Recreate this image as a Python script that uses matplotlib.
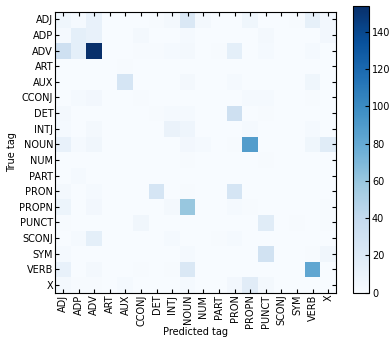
import numpy as np
import matplotlib
matplotlib.use('Agg')
from matplotlib import pyplot as plt

tags = ['ADJ', 'ADP', 'ADV', 'ART', 'AUX', 'CCONJ', 'DET', 'INTJ', 'NOUN',
        'NUM', 'PART', 'PRON', 'PROPN', 'PUNCT', 'SCONJ', 'SYM', 'VERB', 'X']

# rows = true tag, columns = predicted tag
cm = np.array([
    # ADJ ADP ADV ART AUX CCO DET INT NOU NUM PAR PRO PPN PUN SCO SYM VRB  X
    [  6,  2, 12,  0,  0,  0,  1,  3, 22,  3,  0,  0,  6,  0,  0,  1, 13,  4],  # ADJ
    [  2, 14, 12,  0,  0,  3,  0,  0,  2,  0,  0,  0,  0,  3,  0,  0,  0,  4],  # ADP
    [ 32, 14, 154, 0,  0,  1,  1,  2,  3,  0,  1, 14,  0,  2,  0,  0,  2,  0],  # ADV
    [  0,  0,  0,  0,  1,  0,  0,  0,  0,  0,  0,  0,  0,  0,  0,  0,  0,  0],  # ART
    [  0,  0,  0,  0, 26,  0,  0,  0,  3,  0,  0,  2,  0,  0,  0,  0,  6,  0],  # AUX
    [  0,  2,  4,  0,  0,  1,  0,  0,  0,  0,  0,  0,  2,  2,  0,  0,  1,  0],  # CCONJ
    [  3,  0,  0,  0,  0,  0,  1,  2,  2,  0,  0, 32,  0,  1,  0,  0,  0,  0],  # DET
    [  2,  0,  3,  0,  0,  0,  0, 10,  7,  0,  0,  0,  2,  0,  0,  0,  2,  0],  # INTJ
    [ 11,  2,  5,  0,  0,  0,  0,  0,  4,  2,  0,  1, 88,  0,  0,  0,  6, 18],  # NOUN
    [  0,  0,  0,  0,  0,  0,  0,  0,  1,  0,  0,  0,  0,  1,  0,  0,  0,  0],  # NUM
    [  0,  2,  0,  0,  0,  0,  0,  0,  0,  0,  0,  0,  0,  0,  0,  0,  0,  0],  # PART
    [  3,  0,  2,  0,  0,  0, 26,  0,  1,  0,  0, 26,  0,  0,  0,  0,  0,  0],  # PRON
    [  8,  0,  4,  0,  0,  0,  0,  3, 60,  0,  0,  2,  1,  0,  0,  0,  0,  1],  # PROPN
    [  1,  0,  0,  0,  0,  5,  0,  0,  0,  0,  0,  0,  0, 18,  0,  1,  0,  1],  # PUNCT
    [  0,  2, 14,  0,  0,  0,  0,  2,  0,  0,  1,  2,  0,  0,  0,  0,  0,  0],  # SCONJ
    [  2,  0,  0,  0,  0,  0,  0,  0,  2,  0,  0,  0,  0, 30,  0,  0,  1,  5],  # SYM
    [ 12,  0,  3,  0,  0,  1,  0,  1, 22,  0,  0,  0,  0,  0,  0,  0, 82,  0],  # VERB
    [  3,  1,  1,  0,  2,  0,  0,  0,  2,  0,  0,  4, 17,  3,  0,  0,  0,  0],  # X
])

plt.rcParams['font.family'] = 'DejaVu Sans'
plt.rcParams['font.size'] = 7

fig = plt.figure(figsize=(3.89, 3.38), dpi=100)
ax = fig.add_axes([0.142, 0.1346, 0.722, 0.8308])
im = ax.imshow(cm, cmap='Blues', interpolation='nearest', aspect='auto',
               vmin=0, vmax=cm.max())

ticks = np.arange(len(tags))
ax.set_xticks(ticks)
ax.set_yticks(ticks)
ax.set_xticklabels(tags, rotation=90)
ax.set_yticklabels(tags)
ax.tick_params(direction='in', top=True, right=True, length=3, width=0.8,
               labelsize=7, pad=1.5)
ax.set_xlabel('Predicted tag', fontsize=7)
ax.set_ylabel('True tag', fontsize=7)
ax.xaxis.set_label_coords(0.5, -0.122)
ax.yaxis.set_label_coords(-0.136, 0.5)

cax = fig.add_axes([0.908, 0.1346, 0.041, 0.8476])
cb = fig.colorbar(im, cax=cax)
cb.set_ticks(np.arange(0, 141, 20))
cb.ax.tick_params(direction='in', length=3, width=0.8, labelsize=7, pad=2)
cb.outline.set_linewidth(0.8)

fig.savefig('out.png', dpi=100)
